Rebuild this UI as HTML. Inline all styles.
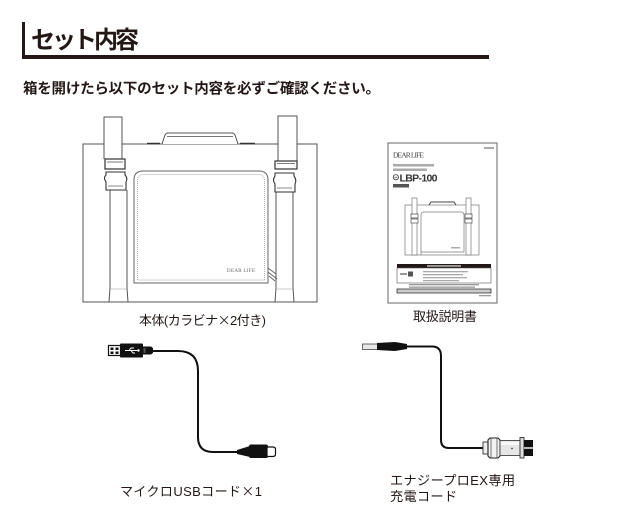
<!DOCTYPE html>
<html>
<head>
<meta charset="utf-8">
<style>
  html,body{margin:0;padding:0;background:#fff;}
  svg{display:block;}
  .jp{font-family:"Liberation Sans","Noto Sans CJK JP",sans-serif;fill:#231815;}
  .cj{font-family:"Noto Sans CJK JP",sans-serif;}
</style>
</head>
<body>
<svg width="640" height="519" viewBox="0 0 640 519" xmlns="http://www.w3.org/2000/svg">
  <rect width="640" height="519" fill="#fff"/>

  <!-- Title -->
  <rect x="22" y="22" width="3" height="37" fill="#231815"/>
  <rect x="22" y="55" width="467" height="4" fill="#231815"/>
  <text class="jp" x="31" y="48" font-size="24" font-weight="700" textLength="108">セット内容</text>

  <!-- Subtitle -->
  <text class="jp" x="23" y="93.5" font-size="14.5" font-weight="700" textLength="357">箱を開けたら以下のセット内容を必ずご確認ください。</text>

  <!-- ===== Bag ===== -->
  <g fill="none" stroke="#555" stroke-width="1">
    <rect x="83" y="144" width="234" height="158" fill="#fff"/>
    <!-- handle -->
    <path d="M147,144 H162 L165,135 Q166,133 168,133 H232 Q234,133 235,135 L238,144 H255" fill="#fff"/>
    <path d="M167,136.5 H233" stroke="#777"/>
    <path d="M147,143.5 H160 M240,143.5 H255" stroke="#333" stroke-width="1.6"/>
    <!-- pocket -->
    <path d="M134,283 V180 Q134,171 143,171 H259 Q268,171 268,180 V283 Z" fill="#fff" stroke="#666"/>
    <path d="M137.5,280 V181 Q137.5,174.5 144,174.5 H258 Q264.5,174.5 264.5,181 V280 Z" stroke="#aaa" stroke-dasharray="1,1"/>
    <!-- zipper -->
    <path d="M268,268 L276,274 M268,272 L277,279 M269,276 L275,281" stroke="#666"/>

    <!-- left strap -->
    <path d="M104,159 V117 H122 V159" fill="#fff"/>
    <path d="M110,190 V288 L109,302 M127,190 V288 L128,302" />
    <path d="M110,289 L127,289" stroke="#999" stroke-width="0.6"/>
    <rect x="105" y="159" width="20" height="10" fill="#fff" stroke="#333" stroke-width="1.2"/>
    <path d="M107,162 H123" stroke="#555" stroke-width="0.8"/>
    <path d="M106,172 H125 V175 Q128,178 126,182 V190 H106 V182 Q103,178 106,175 Z" fill="#fff" stroke="#333" stroke-width="1.1"/>
    <path d="M108,186 H123" stroke="#555" stroke-width="0.7"/>

    <!-- right strap -->
    <path d="M278,161 V116 H297 V161" fill="#fff"/>
    <path d="M276,192 V288 L275,302 M293,192 V288 L294,302"/>
    <path d="M276,289 L293,289" stroke="#999" stroke-width="0.6"/>
    <rect x="275" y="161" width="22" height="8" fill="#fff" stroke="#333" stroke-width="1.2"/>
    <path d="M277,163.5 H295" stroke="#555" stroke-width="0.8"/>
    <path d="M275,173 H294 V176 Q297,180 295,184 V192 H275 V184 Q272,180 275,176 Z" fill="#fff" stroke="#333" stroke-width="1.1"/>
    <path d="M277,188 H292" stroke="#555" stroke-width="0.7"/>
  </g>
  <text x="227" y="272" font-family="Liberation Serif, serif" font-size="5" fill="#666" textLength="28">DEAR LIFE</text>

  <text class="jp" x="139" y="325" font-size="13" textLength="127">本体(カラビナ<tspan class="cj">×</tspan>2付き)</text>

  <!-- ===== Manual ===== -->
  <rect x="388" y="143" width="109" height="160" fill="#fff" stroke="#666" stroke-width="1"/>
  <rect x="484" y="147" width="10" height="2" fill="#aaa"/>
  <text x="393" y="157.5" font-family="Liberation Serif, serif" font-size="7.5" fill="#444" textLength="31">DEAR LIFE</text>
  <rect x="393" y="164" width="41" height="2.5" fill="#aaa"/>
  <rect x="393" y="168.5" width="34" height="2.5" fill="#aaa"/>
  <circle cx="395.8" cy="177.2" r="2.6" fill="none" stroke="#333" stroke-width="0.8"/>
  <path d="M394.3,177.2 H397.3" stroke="#333" stroke-width="0.7"/>
  <text x="399.5" y="181.5" font-family="Liberation Sans, sans-serif" font-size="10.5" font-weight="700" fill="#333" textLength="38">LBP-100</text>
  <rect x="393" y="184" width="16" height="3.5" fill="#555"/>
  <!-- mini bag -->
  <g fill="none" stroke="#777" stroke-width="0.7">
    <rect x="405" y="205" width="74" height="50" fill="#fff"/>
    <path d="M429,205 L431,202 H454 L456,205" stroke="#444" stroke-width="1"/>
    <path d="M421,255 V215 Q421,212 424,212 H461 Q464,212 464,215 V252 H421" fill="#fff"/>
    <rect x="412" y="198" width="5" height="57" fill="#fff"/>
    <rect x="466" y="198" width="5" height="57" fill="#fff"/>
    <rect x="411" y="214" width="7" height="4" fill="#fff" stroke="#444"/>
    <rect x="465" y="214" width="7" height="4" fill="#fff" stroke="#444"/>
    <rect x="411" y="219" width="7" height="4" fill="#fff" stroke="#555"/>
    <rect x="465" y="219" width="7" height="4" fill="#fff" stroke="#555"/>
  </g>
  <rect x="451" y="247" width="9" height="1.5" fill="#aaa"/>
  <!-- info blocks -->
  <rect x="397" y="264" width="94" height="4" fill="#231815"/>
  <rect x="427" y="265.2" width="34" height="1.5" fill="#bbb"/>
  <rect x="397" y="268" width="94" height="15" fill="#fff" stroke="#555" stroke-width="0.6"/>
  <rect x="400" y="273" width="7" height="2" fill="#999"/>
  <rect x="408" y="271.5" width="5" height="5" fill="#555"/>
  <rect x="423" y="271" width="45" height="1.3" fill="#aaa"/>
  <rect x="423" y="274" width="40" height="1.3" fill="#aaa"/>
  <rect x="423" y="277" width="44" height="1.3" fill="#aaa"/>
  <rect x="423" y="280" width="36" height="1.3" fill="#aaa"/>
  <rect x="409" y="284" width="70" height="1.3" fill="#999"/>
  <rect x="409" y="286.5" width="66" height="1.3" fill="#999"/>
  <rect x="397" y="289" width="94" height="4" fill="#ccc" stroke="#333" stroke-width="0.8"/>
  <rect x="479" y="295" width="12" height="1.3" fill="#999"/>

  <text class="jp" x="413" y="321" font-size="13" textLength="64">取扱説明書</text>

  <!-- ===== Micro USB cable ===== -->
  <path d="M152,351 H178 Q198,351 198,371 V437 Q198,452 213,452 H240" fill="none" stroke="#111" stroke-width="2"/>
  <!-- USB-A -->
  <rect x="108.5" y="345.5" width="12" height="10" fill="#fff" stroke="#111" stroke-width="1.2"/>
  <rect x="110.5" y="347.5" width="3" height="2.5" fill="#111"/>
  <rect x="110.5" y="351.5" width="3" height="2.5" fill="#111"/>
  <rect x="115.5" y="347.5" width="3" height="2.5" fill="#111"/>
  <rect x="115.5" y="351.5" width="3" height="2.5" fill="#111"/>
  <rect x="120" y="343.5" width="23" height="14" rx="1" fill="#111"/>
  <path d="M125,350.5 H138 M129,350.5 L131,348 H134 M131,350.5 L133,353 H135" stroke="#fff" stroke-width="1" fill="none"/>
  <circle cx="138.5" cy="350.5" r="1.2" fill="#fff"/>
  <path d="M143,346.5 H151 L153,348 V353 L151,354.5 H143 Z" fill="#111"/>
  <rect x="143.5" y="348" width="2" height="5" fill="#555"/>
  <!-- micro -->
  <path d="M237,450 L250,446 V457 L237,454 Z" fill="#111"/>
  <rect x="249" y="444.5" width="19" height="13.5" rx="2" fill="#111"/>
  <path d="M267,447 H273 Q275.5,447 275.5,449.5 V454 Q275.5,456.5 273,456.5 H267 Z" fill="#fff" stroke="#111" stroke-width="1.2"/>

  <text class="jp" x="120" y="496" font-size="13" textLength="142">マイクロUSBコード<tspan class="cj">×</tspan>1</text>

  <!-- ===== DC cable ===== -->
  <path d="M406,346.5 H432 Q441,346.5 441,356 V440 Q441,448 449,448 H484" fill="none" stroke="#111" stroke-width="2"/>
  <rect x="362.5" y="344" width="15" height="5.5" fill="#e8e8e8" stroke="#444" stroke-width="0.8"/>
  <path d="M377,343 L395,342 L407,344 V349 L395,351 L377,350 Z" fill="#111"/>
  <!-- connector -->
  <rect x="483" y="442" width="5" height="12" fill="#eee" stroke="#333" stroke-width="0.9"/>
  <path d="M488,440 L490,438 H498 L500,440 V456 L498,458 H490 L488,456 Z" fill="#f4f4f4" stroke="#222" stroke-width="1.1"/>
  <path d="M491,438.5 V457.5 M497,438.5 V457.5" stroke="#555" stroke-width="0.8"/>
  <rect x="500" y="440.5" width="20" height="15" fill="#e6e6e6" stroke="#444" stroke-width="0.9"/>
  <rect x="500.5" y="442" width="19" height="3" fill="#f8f8f8"/>
  <circle cx="512" cy="448.5" r="0.9" fill="#444"/>
  <rect x="520" y="437.5" width="4" height="20.5" fill="#ddd" stroke="#333" stroke-width="0.9"/>
  <rect x="524" y="440" width="9" height="16" fill="#111"/>
  <rect x="524" y="447.3" width="9" height="1.4" fill="#fff"/>

  <text class="jp" x="390" y="485" font-size="13.2" textLength="125">エナジープロEX専用</text>
  <text class="jp" x="390" y="501" font-size="13.2" textLength="67">充電コード</text>
</svg>
</body>
</html>
